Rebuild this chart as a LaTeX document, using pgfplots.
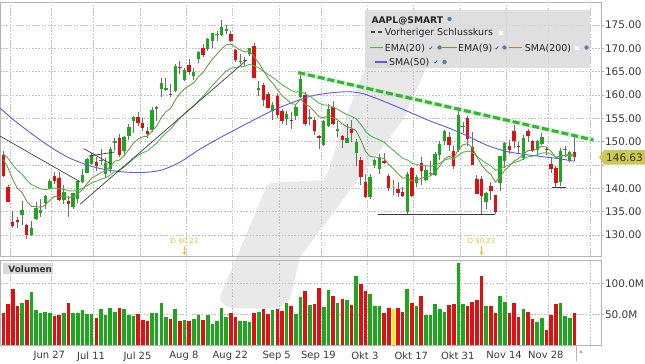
\documentclass[border=0pt]{standalone}
\usepackage{fontspec}
\setmainfont{DejaVu Sans}
\usepackage{pgfplots}
\pgfplotsset{compat=1.18}
\usepackage{pgfplotstable}
\usetikzlibrary{arrows.meta}

\definecolor{cup}{HTML}{1FA61F}
\definecolor{cdn}{HTML}{DD1111}
\definecolor{cdoji}{HTML}{F2F200}
\definecolor{wick}{HTML}{6E6E6E}
\definecolor{ema9}{HTML}{6F9A45}
\definecolor{ema20}{HTML}{4DB84D}
\definecolor{sma50}{HTML}{5A5AE6}
\definecolor{gridc}{HTML}{C4C4C4}
\definecolor{framec}{HTML}{B4B4B4}
\definecolor{wm}{HTML}{E9E9E9}
\definecolor{legbg}{HTML}{D9D9D9}
\definecolor{tagc}{HTML}{CACA52}
\definecolor{divc}{HTML}{F2BE2E}
\definecolor{tl}{HTML}{3C3C3C}
\definecolor{tgreen}{HTML}{33B533}
\definecolor{txt}{HTML}{3A3A3A}
\definecolor{globe}{HTML}{5A7FA8}
\definecolor{s200}{HTML}{E8664A}

% candles: index open high low close volume
\pgfplotstableread{
i o h l c v
4 134.29 137.34 132.16 135.43 68.0
6 130.07 133.08 129.81 131.56 86.6
7 133.42 137.06 133.32 135.87 57.0
8 134.79 137.76 133.91 135.35 52.7
9 136.82 138.59 135.63 138.27 53.3
10 139.90 141.91 139.77 141.66 51.7
13 137.46 140.67 136.67 139.23 51.7
15 136.04 139.04 135.66 138.93 51.7
16 137.77 141.61 136.93 141.56 52.8
17 141.35 144.12 141.08 142.92 57.2
18 143.29 146.55 143.28 146.35 50.0
19 145.26 147.55 145.00 147.04 50.0
21 145.76 148.45 145.05 145.86 58.3
22 142.99 146.45 142.12 145.49 48.9
23 144.08 148.95 143.25 148.47 60.5
24 149.78 150.86 148.20 150.17 54.4
26 147.92 151.23 146.91 151.00 58.3
27 151.12 153.72 150.37 153.04 48.9
28 154.50 155.57 151.94 155.35 47.2
32 152.58 157.33 152.16 156.79 51.7
33 156.98 157.64 154.41 157.35 51.7
34 161.24 163.63 159.50 162.51 68.3
35 161.01 163.59 160.89 161.51 45.5
37 160.84 166.59 160.75 166.13 58.9
39 163.21 165.85 163.00 165.35 40.5
41 164.02 165.82 163.25 164.92 41.6
42 167.68 169.34 166.90 169.24 48.9
44 169.82 172.17 169.40 172.10 48.9
45 171.52 173.39 170.00 173.19 35.0
46 172.78 173.71 171.66 173.03 39.4
47 172.77 176.15 172.57 174.55 60.5
48 173.75 174.90 173.12 174.15 46.1
51 167.08 168.71 166.65 167.23 39.4
52 167.32 168.11 166.25 167.53 39.4
53 168.78 170.14 168.35 170.03 37.2
55 161.15 162.90 159.82 161.38 53.9
58 156.64 158.42 154.67 157.96 57.2
61 154.82 156.67 153.61 155.96 68.3
63 155.47 157.82 154.75 157.37 50.0
64 159.59 164.26 159.30 163.43 78.9
66 154.79 157.10 153.61 155.31 65.5
69 149.31 154.56 149.10 154.48 62.2
70 153.40 158.08 153.08 156.90 88.8
72 152.38 154.47 150.91 152.74 68.8
74 149.66 153.77 149.64 150.77 73.8
76 147.64 150.64 144.84 149.84 112.2
79 138.21 143.07 137.69 142.45 83.3
80 145.03 146.22 144.26 146.10 62.7
81 144.07 147.38 143.01 146.40 62.7
87 134.99 143.59 134.37 142.99 91.0
89 141.07 142.90 140.27 142.41 63.9
91 141.69 144.95 141.50 143.86 48.3
92 143.02 145.89 142.65 143.39 48.3
93 142.87 147.85 142.65 147.27 66.6
94 147.19 150.23 146.00 149.45 58.3
95 150.09 152.49 149.36 152.34 53.9
98 148.20 157.50 147.82 155.74 133.3
99 153.16 154.24 151.92 153.34 67.2
104 137.11 139.15 135.67 138.92 62.7
107 141.24 146.87 139.50 146.87 80.0
108 145.82 150.01 144.37 149.70 70.0
112 146.43 151.48 146.15 150.72 58.9
115 148.13 150.42 146.93 150.18 37.2
116 149.45 151.83 149.34 151.07 43.8
120 141.40 148.72 140.55 148.03 68.3
121 148.21 149.13 146.61 148.31 47.2
122 145.96 148.00 145.65 147.81 43.8
}\up
\pgfplotstableread{
i o h l c v
0 147.08 147.95 142.53 142.64 51.7
1 140.28 140.76 137.06 137.13 67.0
2 132.87 135.20 131.44 131.88 92.0
3 133.13 133.89 131.48 132.76 62.7
5 132.08 132.39 129.04 130.06 73.8
11 142.70 143.49 140.97 141.66 47.2
12 142.13 143.42 137.33 137.44 49.4
14 137.25 138.37 133.77 136.72 68.3
20 145.67 146.64 143.78 144.87 43.3
25 150.74 151.57 146.70 147.07 60.5
29 155.39 156.28 153.41 154.09 50.5
30 154.01 155.04 152.28 152.95 40.5
31 152.26 153.09 150.80 151.60 38.3
36 160.10 162.41 159.63 160.01 41.6
38 166.01 167.19 164.43 165.81 39.4
40 166.37 167.81 164.20 164.87 38.8
43 170.06 170.99 168.19 168.49 40.5
49 173.03 173.74 171.31 171.52 51.7
50 169.69 169.86 167.14 167.57 46.1
54 170.57 171.05 163.56 163.62 51.7
56 162.13 162.56 157.72 158.91 58.9
57 160.31 160.58 157.14 157.22 50.5
59 159.75 160.36 154.97 155.81 58.9
60 156.47 157.09 153.69 154.53 56.1
62 154.64 156.36 152.68 154.46 63.9
65 159.90 160.54 153.37 153.84 87.7
67 154.65 155.24 151.38 152.37 66.6
68 151.21 151.35 148.37 150.70 93.3
71 157.34 158.74 153.60 153.72 80.0
73 151.19 151.47 148.56 150.43 75.0
75 152.74 154.72 149.95 151.76 65.5
77 146.10 146.72 140.68 142.48 100.0
78 141.28 143.10 138.00 138.20 87.7
82 145.81 147.54 145.22 145.43 51.7
83 142.54 143.10 139.45 140.09 60.5
85 139.90 141.35 138.22 138.98 60.5
86 139.13 140.36 138.16 138.34 53.9
88 144.31 144.52 138.19 138.38 67.7
90 145.49 146.70 140.61 143.75 80.5
96 150.96 151.99 148.04 149.35 65.5
97 148.07 149.05 144.13 144.80 66.6
100 155.08 155.45 149.13 150.65 62.7
101 148.95 152.17 145.00 145.03 70.5
102 142.06 142.80 138.75 138.88 73.8
103 142.09 142.67 134.38 138.38 111.6
105 140.41 141.43 137.49 139.50 62.7
106 138.50 138.55 134.59 134.87 52.8
109 148.97 150.28 147.43 148.28 51.7
110 152.22 153.59 148.56 150.04 68.3
111 149.13 149.87 147.29 148.79 45.0
113 152.31 152.70 149.97 151.29 53.9
114 150.16 150.37 147.72 148.01 42.7
117 148.31 148.88 147.12 148.11 25.0
118 145.14 146.64 143.38 144.22 49.4
119 144.29 144.81 140.35 141.17 66.6
123 147.77 150.92 145.77 146.63 52.2
}\down
\pgfplotstableread{
i o h l c v
84 140.42 141.89 138.57 140.42 58.9
}\doji
% moving averages EMA(9), EMA(20)
\pgfplotstableread{
i e9 e20
0 146.11 147.37
1 144.31 146.40
2 141.82 145.02
3 140.01 143.85
4 139.09 143.05
5 137.28 141.81
6 136.14 140.83
7 136.09 140.36
8 135.94 139.88
9 136.41 139.73
10 137.46 139.91
11 138.30 140.08
12 138.13 139.83
13 138.35 139.77
14 138.02 139.48
15 138.20 139.43
16 138.87 139.63
17 139.68 139.94
18 141.01 140.55
19 142.22 141.17
20 142.75 141.52
21 143.37 141.93
22 143.79 142.27
23 144.73 142.86
24 145.82 143.56
25 146.07 143.89
26 147.06 144.57
27 148.26 145.38
28 149.68 146.33
29 150.56 147.07
30 151.04 147.63
31 151.15 148.01
32 152.28 148.85
33 153.29 149.66
34 155.13 150.88
35 156.41 151.89
36 157.13 152.66
37 158.93 153.94
38 160.31 155.07
39 161.32 156.05
40 162.03 156.89
41 162.61 157.65
42 163.94 158.75
43 164.85 159.68
44 166.30 160.86
45 167.68 162.03
46 168.75 163.08
47 169.91 164.17
48 170.76 165.12
49 170.91 165.73
50 170.24 165.91
51 169.64 166.04
52 169.22 166.18
53 169.38 166.55
54 168.23 166.27
55 166.86 165.80
56 165.27 165.14
57 163.66 164.39
58 162.52 163.78
59 161.18 163.02
60 159.85 162.21
61 159.07 161.62
62 158.15 160.94
63 157.99 160.60
64 159.08 160.87
65 158.03 160.20
66 157.49 159.73
67 156.47 159.03
68 155.32 158.24
69 155.15 157.88
70 155.50 157.79
71 155.14 157.40
72 154.66 156.96
73 153.81 156.34
74 153.20 155.81
75 152.91 155.42
76 152.30 154.89
77 150.34 153.71
78 147.91 152.23
79 146.82 151.30
80 146.68 150.80
81 146.62 150.38
82 146.38 149.91
83 145.12 148.98
84 144.18 148.16
85 143.14 147.29
86 142.18 146.44
87 142.34 146.11
88 141.55 145.37
89 141.72 145.09
90 142.13 144.96
91 142.48 144.86
92 142.66 144.72
93 143.58 144.96
94 144.75 145.39
95 146.27 146.05
96 146.89 146.36
97 146.47 146.21
98 148.32 147.12
99 149.32 147.71
100 149.59 147.99
101 148.68 147.71
102 146.72 146.87
103 145.05 146.06
104 143.82 145.38
105 142.96 144.82
106 141.34 143.87
107 142.45 144.16
108 143.90 144.69
109 144.78 145.03
110 145.83 145.51
111 146.42 145.82
112 147.28 146.29
113 148.08 146.77
114 148.07 146.89
115 148.49 147.20
116 149.01 147.57
117 148.83 147.62
118 147.91 147.30
119 146.56 146.72
120 146.85 146.84
121 147.14 146.98
122 147.27 147.06
123 147.14 147.02
}\ema
% SMA(50)
\pgfplotstableread{
i v
-0.75 157.2
2 154.8
5 152.5
8 150.3
11 148.3
14 146.6
18 145.0
22 144.0
26 143.5
30 143.4
34 143.9
38 145.6
42 148.2
46 150.5
50 152.6
54 154.7
58 156.7
62 158.3
66 159.7
70 160.4
74 160.7
77 160.4
80 159.4
84 157.8
88 156.1
92 154.4
96 152.9
100 151.2
104 149.3
108 148.0
112 147.3
116 146.8
120 146.3
123 145.8
}\sma

\pgfplotsset{chartax/.style={
  scale only axis, width=601bp, xmin=-0.754, xmax=128.74,
  axis line style={framec, line width=0.7bp},
  grid=major, major grid style={gridc, line width=0.6bp, dash pattern=on 1.6bp off 1.6bp},
  xtick={1.4,10.4,19.4,29.4,39.4,49.4,59.4,68.4,78.4,88.4,98.4,108.4,117.4,126.4},
  ytick pos=right, yticklabel pos=right, tick align=outside,
  x tick style={draw=none}, y tick style={framec, line width=0.6bp},
  major tick length=3bp,
  ticklabel style={font=\fontsize{10.5}{12}\selectfont, text=txt},
  yticklabel style={xshift=-2.5bp},
  /pgf/number format/assume math mode=true}}

\newcommand\candles[2]{%
 \addplot[draw=none, mark=none, forget plot, error bars/.cd, y dir=plus, y explicit, error mark=none,
   error bar style={draw=wick, line width=0.9bp, solid}]
   table[x=i, y=l, y error plus expr=\thisrow{h}-\thisrow{l}] {#1};
 \addplot[draw=none, mark=none, forget plot, error bars/.cd, y dir=plus, y explicit, error mark=none,
   error bar style={draw=#2, line width=3.4bp, solid}]
   table[x=i, y expr={min(\thisrow{o},\thisrow{c})}, y error plus expr={max(abs(\thisrow{c}-\thisrow{o}),0.25)}] {#1};
}

\begin{document}
\begin{tikzpicture}
% watermark
\begin{scope}[x=1bp,y=1bp]
\fill[wm, rounded corners=4bp] (368,303) -- (430,303) -- (403,243) -- (300,106) -- (290,63) -- (278,55) -- (228,55) -- (219,64) -- (268,180) -- (325,183) -- (345,243) -- cycle;
\end{scope}

% ---------- price panel
\begin{axis}[chartax, at={(0bp,107bp)}, anchor=south west, height=254bp,
  ymin=125.5, ymax=179.93, ytick={130,135,...,175}, xticklabels={},
  yticklabels={130.00,135.00,140.00,,150.00,155.00,160.00,165.00,170.00,175.00}]
 \candles{\up}{cup}
 \candles{\down}{cdn}
 \candles{\doji}{cdoji}
 \addplot[sma50, line width=0.9bp, smooth, mark=none] table[x=i, y=v] {\sma};
 \addplot[ema20, line width=0.9bp, mark=none] table[x=i, y=e20] {\ema};
 \addplot[ema9, line width=0.9bp, mark=none] table[x=i, y=e9] {\ema};
 % drawn trend lines
 \addplot[tl, line width=0.7bp] coordinates {(-0.75,151.2) (16.5,141.4)};
 \addplot[tl, line width=0.7bp] coordinates {(16.5,136.6) (52.4,167.5)};
 \addplot[tl, line width=0.7bp] coordinates {(17.3,148.5) (23.2,145.2)};
 \addplot[tl, line width=0.7bp] coordinates {(18.3,146.9) (24.0,147.8)};
 \addplot[tl, line width=0.7bp] coordinates {(80.6,134.5) (105.9,134.5)};
 \addplot[tl, line width=0.7bp] coordinates {(118.1,140.2) (121.3,140.2)};
 \addplot[tgreen!45, line width=4.5bp, opacity=0.5] coordinates {(63.5,164.8) (127.1,150.36)};
 \addplot[tgreen, line width=3bp, dash pattern=on 7bp off 3bp] coordinates {(63.5,164.8) (127.1,150.36)};
 % dividends
 \node[text=divc, font=\fontsize{7}{8}\selectfont] at (axis cs:39,128.7) {D \$0.23};
 \draw[divc, line width=0.8bp, -{Triangle[length=3bp,width=3.5bp]}] (axis cs:39,127.6) -- (axis cs:39,125.7);
 \node[text=divc, font=\fontsize{7}{8}\selectfont] at (axis cs:103,128.7) {D \$0.23};
 \draw[divc, line width=0.8bp, -{Triangle[length=3bp,width=3.5bp]}] (axis cs:103,127.6) -- (axis cs:103,125.7);
 \coordinate (tag) at (axis cs:128.74,146.63);
\end{axis}

% ---------- volume panel
\begin{axis}[chartax, at={(0bp,18bp)}, anchor=south west, height=85bp,
  ymin=0, ymax=138.4, ytick={50,100}, yticklabels={50.0M,100.0M},
  xticklabels={,Jun 27,Jul 11,Jul 25,Aug 8,Aug 22,Sep 5,Sep 19,Okt 3,Okt 17,Okt 31,Nov 14,Nov 28,},
  xticklabel style={xshift=-2.5bp, font=\fontsize{10}{12}\selectfont}]
 \addplot[ycomb, draw=cup, line width=3.6bp, mark=none] table[x=i, y=v] {\up};
 \addplot[ycomb, draw=cdn, line width=3.6bp, mark=none] table[x=i, y=v] {\down};
 \addplot[ycomb, draw=cdoji, line width=3.6bp, mark=none] table[x=i, y=v] {\doji};
 \coordinate (sep) at (axis cs:123.5,0);
\end{axis}

\begin{scope}[x=1bp,y=1bp]
% separator and star under the last bar
\draw[framec, line width=0.7bp] (sep) -- ++(0,-16);
\node[text=gray, font=\fontsize{8}{8}\selectfont] at ([xshift=4.5bp,yshift=-9bp]sep) {*};

% last price tag
\fill[tagc] ([xshift=-2bp]tag) -- ++(5,7.2) -- ++(43,0) -- ++(0,-14.4) -- ++(-43,0) -- cycle;
\node[anchor=west, inner sep=0pt, text=black!80, font=\fontsize{10.5}{12}\selectfont] at ([xshift=5bp]tag) {146.63};

% "Volumen" label
\fill[legbg] (2.7,88.7) rectangle (53,100);
\node[anchor=base west, inner sep=0pt, text=black!80, font=\bfseries\fontsize{8.9}{10}\selectfont] at (8.3,90.7) {Volumen};

% legend box
\fill[legbg, opacity=0.85] (365,294.7) rectangle (590,353);
\begin{scope}[every node/.style={anchor=base west, inner sep=0pt, text=black!85, font=\fontsize{9.5}{11}\selectfont}]
 \node[font=\bfseries\fontsize{9.2}{11}\selectfont] at (371.3,339.7) {AAPL@SMART};
 \fill[globe] (449.5,344) circle (2.2);
 \draw[black!70, line width=1.2bp, dash pattern=on 4bp off 2.5bp] (371,331) -- (382.5,331);
 \node at (384.7,327.3) {Vorheriger Schlusskurs};
 \fill[white] (498.5,328.5) rectangle (502.5,332.5);
 % row 3
 \draw[ema20, line width=1.5bp] (370,315.5) -- (383,315.5);
 \node at (384.7,312) {EMA(20)};
 \node[font=\fontsize{6}{6}\selectfont, text=blue!75!black] at (428.5,313) {✓};
 \fill[globe] (439.5,315.5) circle (2.2);
 \draw[ema9, line width=1.5bp] (442,315.5) -- (457,315.5);
 \node at (458,312) {EMA(9)};
 \node[font=\fontsize{6}{6}\selectfont, text=blue!75!black] at (494.5,313) {✓};
 \fill[globe] (504.5,315.5) circle (2.2);
 \draw[s200, line width=1.5bp] (508.7,315.5) -- (522,315.5);
 \node at (524.7,312) {SMA(200)};
 \fill[white] (575,313.5) rectangle (579,317.5);
 \fill[globe] (586.5,315.5) circle (2.2);
 % row 4
 \draw[sma50, line width=1.5bp] (375,301) -- (387,301);
 \node at (389,297.3) {SMA(50)};
 \node[font=\fontsize{6}{6}\selectfont, text=blue!75!black] at (433.5,298.3) {✓};
 \fill[globe] (444.5,301) circle (2.2);
\end{scope}

\pgfresetboundingbox
\useasboundingbox (0,0) rectangle (645,363);
\end{scope}
\end{tikzpicture}
\end{document}
